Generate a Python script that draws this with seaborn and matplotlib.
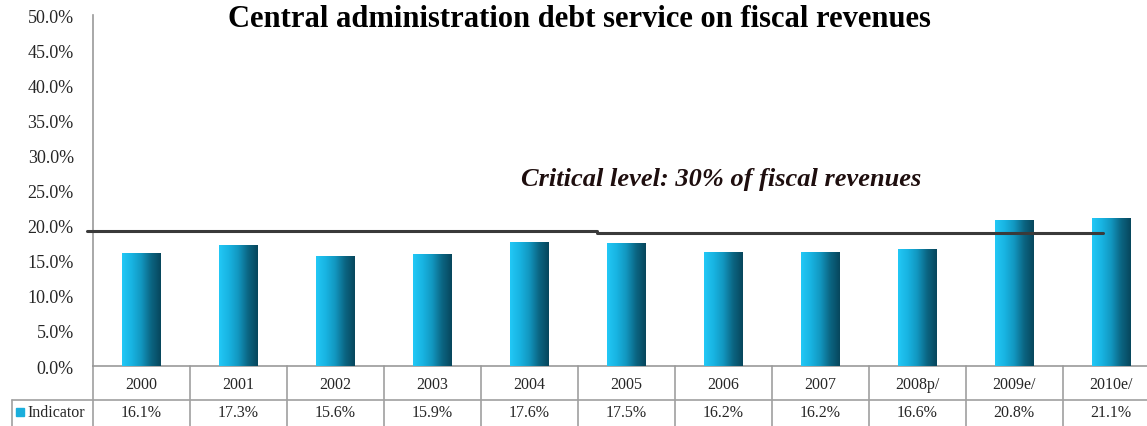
import numpy as np
import pandas as pd
import matplotlib
matplotlib.use("Agg")
import matplotlib.pyplot as plt
import seaborn as sns
from matplotlib.colors import LinearSegmentedColormap
from matplotlib.transforms import blended_transform_factory

# Data
years = ["2000", "2001", "2002", "2003", "2004", "2005", "2006", "2007", "2008p/", "2009e/", "2010e/"]
indicator = [16.1, 17.3, 15.6, 15.9, 17.6, 17.5, 16.2, 16.2, 16.6, 20.8, 21.1]
critical_level = [19.2, 18.9]  # reference line, left and right segments
series_name = "Indicator"
title = "Central administration debt service on fiscal revenues"
note = "Critical level: 30% of fiscal revenues"

df = pd.DataFrame({"year": years, "value": indicator})

sns.set_style("white")
plt.rcParams["font.family"] = ["Liberation Serif", "DejaVu Serif"]

fig = plt.figure(figsize=(11.47, 4.27), dpi=100)
ax = fig.add_axes([0.0811, 0.1405, 0.930, 0.822])

sns.barplot(data=df, x="year", y="value", ax=ax, color="#1ab0dc", width=0.4,
            saturation=1, linewidth=0, zorder=2)

# Horizontal cyan-to-teal gradient inside each bar
cmap = LinearSegmentedColormap.from_list(
    "bar", ["#22c8f6", "#18b4e2", "#1296bf", "#0b6582", "#07465c"])
grad = np.linspace(0, 1, 256).reshape(1, -1)
for p in list(ax.patches):
    x0, y0 = p.get_x(), p.get_y()
    w, h = p.get_width(), p.get_height()
    im = ax.imshow(grad, cmap=cmap, aspect="auto", extent=[x0, x0 + w, y0, y0 + h],
                   zorder=3, interpolation="bilinear")
    im.set_clip_path(p)

n = len(years)
ax.set_xlim(-0.5, n - 0.5)
ax.set_ylim(0, 50)
ax.set_yticks(np.arange(0, 50.1, 5))
ax.set_yticklabels([f"{v:.1f}%" for v in np.arange(0, 50.1, 5)], fontsize=13)
ax.tick_params(axis="y", direction="out", length=4.3, width=1, color="#888888", pad=9.5)
ax.set_xticks([])
ax.set_xlabel("")
ax.set_ylabel("")
for side in ["top", "right"]:
    ax.spines[side].set_visible(False)
for side in ["left", "bottom"]:
    ax.spines[side].set_color("#999999")
    ax.spines[side].set_linewidth(1.2)

# Critical level line, starting just left of the axis
ax.plot([-0.56, 4.7], [critical_level[0]] * 2, color="#3a3a3a", lw=2.2,
        clip_on=False, zorder=4)
ax.plot([4.7, 9.91], [critical_level[1]] * 2, color="#3a3a3a", lw=2.2,
        clip_on=False, zorder=4)

ax.text(5.98, 0.533, note, transform=blended_transform_factory(ax.transData, ax.transAxes),
        ha="center", va="center", fontsize=19, fontweight="bold",
        fontstyle="italic", color="#1e0e0e")

fig.text(0.505, 0.955, title, ha="center", va="center", fontsize=22,
         fontweight="bold", color="black")

# Data table under the axis
trans = blended_transform_factory(ax.transData, ax.transAxes)
row1_y, row2_y = -0.051, -0.131
mid_line, bottom = -0.096, -0.175
line_kw = dict(color="#a0a0a0", lw=1.2, clip_on=False, transform=trans)
for i in range(n + 1):
    xb = i - 0.5
    ax.plot([xb, xb], [0, bottom], **line_kw)
for i, (yr, v) in enumerate(zip(years, indicator)):
    ax.text(i, row1_y, yr, transform=trans, ha="center", va="center", fontsize=11.5)
    ax.text(i, row2_y, f"{v:.1f}%", transform=trans, ha="center", va="center", fontsize=11.5)
ax.plot([-0.5, n - 0.5], [mid_line, mid_line], **line_kw)
ax.plot([-1.335, -0.5], [mid_line, mid_line], **line_kw)
ax.plot([-1.335] * 2, [mid_line, bottom], **line_kw)
ax.plot([-1.25], [row2_y], marker="s", ms=5.5, color="#1aaedc",
        transform=trans, clip_on=False)
ax.text(-1.18, row2_y, series_name, transform=trans, ha="left", va="center",
        fontsize=11.5)

fig.savefig("out.png", dpi=100)
